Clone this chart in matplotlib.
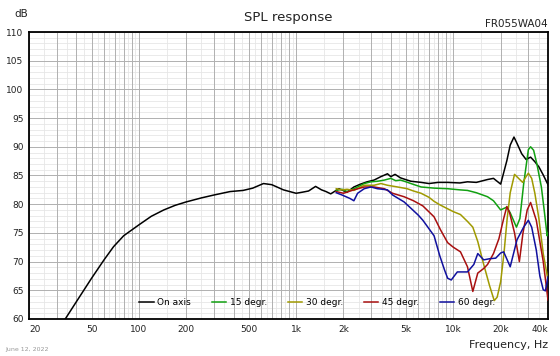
import numpy as np
import matplotlib
matplotlib.use("Agg")
import matplotlib.pyplot as plt
from matplotlib.ticker import FixedLocator, NullFormatter

# ---------------- data ----------------
f_on = [34, 40, 50, 60, 69, 80, 100, 120, 144, 170, 200, 250, 300, 380, 460, 530, 620, 700,
        830, 1000, 1100, 1200, 1330, 1450, 1550, 1660, 1870, 2110, 2330, 2570, 2830, 3130,
        3460, 3810, 4000, 4260, 4600, 4960, 5370, 6240, 7000, 8000, 9200, 11000, 12300,
        14000, 16500, 18000, 20000, 21900, 23000, 24300, 25500, 27200, 29000, 31000, 33000,
        35000, 37300, 40000]
spl_on = [60, 63.0, 67.1, 70.3, 72.6, 74.5, 76.4, 77.9, 79.0, 79.8, 80.4, 81.1, 81.6, 82.2,
          82.4, 82.8, 83.6, 83.4, 82.5, 81.9, 82.1, 82.3, 83.1, 82.5, 82.2, 81.8, 82.7, 82.1,
          83.0, 83.5, 83.9, 84.2, 84.8, 85.3, 84.8, 85.2, 84.6, 84.3, 84.0, 83.8, 83.6,
          83.8, 83.8, 83.7, 83.9, 83.8, 84.3, 84.5, 83.5, 87.6, 90.3, 91.7, 90.5, 88.8, 87.8,
          88.2, 87.4, 86.5, 85.1, 83.4]

f_15 = [1800, 1960, 2110, 2330, 2460, 2710, 2990, 3300, 3640, 4000, 4300, 4620, 5000, 5370,
        6240, 7540, 9200, 11000, 12300, 14000, 16500, 18000, 20000, 21900, 23000, 25200,
        26500, 28000, 30000, 31000, 32400, 34000, 36300, 38000, 39500, 40000]
spl_15 = [82.4, 82.6, 82.2, 82.7, 83.0, 83.6, 83.9, 84.0, 84.2, 84.5, 84.1, 84.2, 83.9, 83.6,
          83.0, 82.8, 82.7, 82.5, 82.4, 82.0, 81.3, 80.6, 79.0, 79.5, 78.5, 76.0, 77.5, 83.5,
          89.5, 90.0, 89.4, 87.0, 83.0, 78.5, 74.5, 75.0]

f_30 = [1800, 1960, 2110, 2330, 2710, 3130, 3460, 3810, 4420, 5080, 5580, 6240, 7000, 7540,
        8200, 9200, 10000, 11100, 12300, 13300, 14300, 15600, 17000, 18200, 19000, 20000,
        21000, 22000, 23000, 24500, 26000, 27600, 29000, 30000, 31500, 33000, 35000, 37300,
        40000]
spl_30 = [82.7, 82.5, 82.6, 82.4, 83.3, 83.3, 83.6, 83.3, 83.0, 82.7, 82.3, 81.9, 81.2,
          80.5, 79.9, 79.2, 78.7, 78.2, 77.0, 76.0, 73.5, 69.5, 65.8, 63.2, 63.8, 66.5,
          71.5, 77.5, 82.0, 85.2, 84.5, 83.8, 84.8, 85.4, 84.5, 81.9, 77.5, 71.4, 66.8]

f_45 = [1800, 2000, 2330, 2710, 3130, 3640, 4110, 4860, 5580, 6400, 7540, 8300, 9200, 10000,
        11100, 12300, 13300, 14300, 15600, 16500, 18000, 19500, 20900, 21900, 22800, 24500,
        26300, 27700, 29500, 31000, 33700, 35500, 37300, 40000]
spl_45 = [82.2, 81.9, 82.5, 83.0, 83.0, 82.7, 81.9, 81.3, 80.6, 79.7, 77.8, 75.5, 73.3, 72.5,
          71.7, 69.1, 64.8, 68.0, 68.8, 69.5, 71.4, 74.0, 77.5, 79.6, 78.5, 75.0, 70.0, 74.9,
          79.0, 80.3, 77.2, 73.5, 70.0, 63.3]

f_60 = [1800, 1960, 2200, 2330, 2460, 2710, 2990, 3290, 3810, 4110, 4860, 5370, 5980, 6400,
        7540, 8200, 8800, 9200, 9700, 10600, 12300, 13500, 14300, 15600, 17000, 18600,
        20000, 20900, 23000, 25400, 28000, 30000, 31500, 33700, 35500, 37300, 38500, 40000]
spl_60 = [82.0, 81.6, 81.0, 80.6, 81.9, 82.7, 83.0, 82.7, 82.5, 81.6, 80.4, 79.3, 78.1, 77.2,
          74.5, 71.0, 68.5, 67.1, 66.8, 68.2, 68.2, 69.5, 71.4, 70.3, 70.5, 70.6, 71.5, 71.7,
          69.1, 73.8, 76.0, 77.2, 76.0, 72.0, 67.5, 65.1, 64.9, 67.4]

series = [
    ("On axis", f_on, spl_on, "#000000"),
    ("15 degr.", f_15, spl_15, "#11a011"),
    ("30 degr.", f_30, spl_30, "#a09a00"),
    ("45 degr.", f_45, spl_45, "#a80f0f"),
    ("60 degr.", f_60, spl_60, "#10109e"),
]

x_ticks = [20, 50, 100, 200, 500, 1000, 2000, 5000, 10000, 20000, 40000]
x_labels = ["20", "50", "100", "200", "500", "1k", "2k", "5k", "10k", "20k", "40k"]
y_ticks = list(range(60, 111, 5))

# ---------------- figure ----------------
fig = plt.figure(figsize=(5.6, 3.56), dpi=100)
ax = fig.add_axes([29 / 560, 1 - 319 / 356, (548 - 29) / 560, (319 - 32) / 356])
ax.set_xscale("log")
ax.set_xlim(20, 40000)
ax.set_ylim(60, 110)

# grid lines
major_v, minor_v = [], []
for dec in [10, 100, 1000, 10000]:
    for k in range(1, 10):
        v = k * dec
        if 20 <= v <= 40000:
            major_v.append(v)
        h = (k + 0.5) * dec
        if 20 < h < 40000:
            minor_v.append(h)
for v in minor_v:
    ax.axvline(v, color="#e6e6e6", lw=0.6, zorder=0)
for y in range(60, 111):
    if y % 5:
        ax.axhline(y, color="#e6e6e6", lw=0.6, zorder=0)
for v in major_v:
    ax.axvline(v, color="#b0b0b0", lw=0.7, zorder=0.5)
for y in y_ticks:
    ax.axhline(y, color="#b0b0b0", lw=0.7, zorder=0.5)

for name, f, s, c in series:
    ax.plot(f, s, color=c, lw=1.1, label=name, zorder=3)

ax.xaxis.set_major_locator(FixedLocator(x_ticks))
ax.set_xticklabels(x_labels)
ax.xaxis.set_minor_formatter(NullFormatter())
ax.xaxis.set_minor_locator(FixedLocator([]))
ax.set_yticks(y_ticks)
ax.tick_params(axis="both", length=0, labelsize=6.5, colors="#222222", pad=4)
xl = ax.get_xticklabels()
xl[0].set_ha("left")
xl[-1].set_ha("right")
for sp in ax.spines.values():
    sp.set_color("#000000")
    sp.set_linewidth(1.3)

leg = ax.legend(loc="lower center", bbox_to_anchor=(0.555, 0.012), ncol=5, frameon=False,
                fontsize=6.5, handlelength=1.6, handletextpad=0.4, columnspacing=2.3)

fig.text(14 / 560, 1 - 14 / 356, "dB", fontsize=7.5, ha="left", va="center", color="#222222")
fig.text(288 / 560, 1 - 17 / 356, "SPL response", fontsize=9.5, ha="center", va="center",
         color="#222222")
fig.text(548 / 560, 1 - 24 / 356, "FR055WA04", fontsize=7.5, ha="right", va="center",
         color="#222222")
fig.text(548 / 560, 1 - 345 / 356, "Frequency, Hz", fontsize=8, ha="right", va="center",
         color="#222222")
fig.text(5 / 560, 1 - 349 / 356, "June 12, 2022", fontsize=4.5, ha="left", va="center",
         color="#999999")

fig.savefig("out.png", dpi=100, facecolor="white")
